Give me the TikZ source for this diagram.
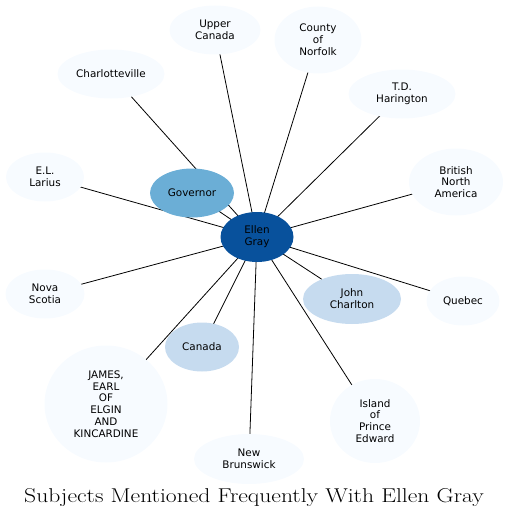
\documentclass[tikz,border=0pt]{standalone}
\usepackage{fontspec}
\usepackage{xcolor}
\usetikzlibrary{shapes.geometric,backgrounds}
\newfontfamily\bubblefont{DejaVu Sans}
\definecolor{hub}{HTML}{08519C}
\definecolor{strong}{HTML}{6BAED6}
\definecolor{medium}{HTML}{C6DBEF}
\definecolor{faint}{HTML}{F7FBFF}
\tikzset{
  bubble/.style={ellipse,draw=none,fill=faint,inner sep=0pt,align=center,
                 font=\bubblefont\fontsize{10.4}{11.8}\selectfont,text=black},
  hubbubble/.style={bubble,fill=hub},
  strongbubble/.style={bubble,fill=strong},
  mediumbubble/.style={bubble,fill=medium},
  link/.style={draw=black,line width=0.8pt}
}
\begin{document}
\begin{tikzpicture}[x=1pt,y=-1pt]
    \useasboundingbox (0,0) rectangle (508,519);
    \node[hubbubble,minimum width=73pt,minimum height=50pt] (ellen) at (257,237) {Ellen\\Gray};
    \node[strongbubble,minimum width=84pt,minimum height=49pt] (gov) at (192,193) {Governor};
    \node[mediumbubble,minimum width=98pt,minimum height=50pt] (charlton) at (352,299) {John\\Charlton};
    \node[mediumbubble,minimum width=74pt,minimum height=49pt] (canada) at (202,347) {Canada};
    \node[bubble,minimum width=91pt,minimum height=49pt] (upper) at (215,30) {Upper\\Canada};
    \node[bubble,minimum width=87pt,minimum height=67pt] (norfolk) at (318,40) {County\\of\\Norfolk};
    \node[bubble,minimum width=107pt,minimum height=49pt] (charl) at (111,74) {Charlotteville};
    \node[bubble,minimum width=107pt,minimum height=49pt] (hari) at (402,94) {T.D.\\Harington};
    \node[bubble,minimum width=78pt,minimum height=49pt] (larius) at (45,177) {E.L.\\Larius};
    \node[bubble,minimum width=94pt,minimum height=67pt] (bna) at (456,182) {British\\North\\America};
    \node[bubble,minimum width=79pt,minimum height=49pt] (nova) at (45,294) {Nova\\Scotia};
    \node[bubble,minimum width=73pt,minimum height=49pt] (quebec) at (463,301) {Quebec};
    \node[bubble,minimum width=123pt,minimum height=117pt] (elgin) at (106,404) {JAMES,\\EARL\\OF\\ELGIN\\AND\\KINCARDINE};
    \node[bubble,minimum width=110pt,minimum height=50pt] (brunswick) at (249,459) {New\\Brunswick};
    \node[bubble,minimum width=90pt,minimum height=84pt] (pei) at (375,421) {Island\\of\\Prince\\Edward};
    \node[font=\fontsize{20}{24}\selectfont] (title) at (254,498) {\scalebox{1.18}[1]{Subjects Mentioned Frequently With Ellen Gray}};
    \begin{pgfonlayer}{background}
      \foreach \other in {gov,charlton,canada,upper,norfolk,charl,hari,larius,bna,nova,quebec,elgin,brunswick,pei}
        \draw[link] (ellen.center) -- (\other.center);
    \end{pgfonlayer}
\end{tikzpicture}
\end{document}
